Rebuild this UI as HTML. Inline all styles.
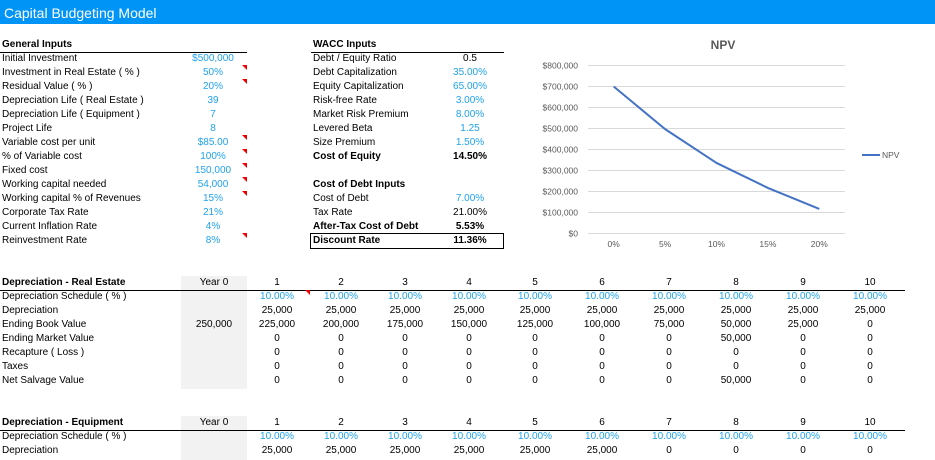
<!DOCTYPE html>
<html><head><meta charset="utf-8">
<style>
body{margin:0;width:935px;height:460px;overflow:hidden;background:#fff;position:relative;font-family:"Liberation Sans",sans-serif;font-size:10px;color:#000}
.t{position:absolute;white-space:nowrap;line-height:14px;height:14px}
.b{font-weight:bold}
.blue{color:#1fa2ee}
.c{transform:translateX(-50%)}
.tri{position:absolute;width:0;height:0;border-top:5px solid #e00;border-left:5px solid transparent}
.hl{position:absolute;height:0;border-top:1.5px solid #000}
.gray{position:absolute;background:#f2f2f2}
</style></head>
<body>
<div style="position:absolute;left:0;top:0;width:935px;height:24px;background:#0094f6"></div>
<div class="t" style="left:4px;top:5px;color:#fff;font-size:14px;line-height:16px">Capital Budgeting Model</div>
<div class="gray" style="left:181px;top:276px;width:66px;height:113px"></div>
<div class="gray" style="left:181px;top:416px;width:66px;height:44px"></div>
<div id="cells"></div>
<svg id="chart" width="935" height="460" style="position:absolute;left:0;top:0" font-family="Liberation Sans, sans-serif"></svg>
<script>
const root=document.getElementById('cells');
function txt(x,y,s,cls,name){
 const el=document.createElement('div');
 el.className='t '+(cls||'');
 el.style.left=x+'px';el.style.top=(y-7)+'px';
 el.textContent=s;
 
 
 root.appendChild(el);return el;
}
function line(x,y,w,name){
 const el=document.createElement('div');el.className='hl';
 el.style.left=x+'px';el.style.top=y+'px';el.style.width=w+'px';
 
 
 root.appendChild(el);
}
function tri(x,y){
 const el=document.createElement('div');el.className='tri';
 el.style.left=x+'px';el.style.top=y+'px';
 
 
 root.appendChild(el);
}
// General inputs
txt(2,45,'General Inputs','b','general-inputs-header');
line(0,52,247,'general-inputs-underline');
const gi=[['Initial Investment','$500,000',0],['Investment in Real Estate ( % )','50%',1],['Residual Value ( % )','20%',1],['Depreciation Life ( Real Estate )','39',0],['Depreciation Life ( Equipment )','7',0],['Project Life','8',0],['Variable cost per unit','$85.00',1],['% of Variable cost','100%',1],['Fixed cost','150,000',1],['Working capital needed','54,000',1],['Working capital % of Revenues','15%',1],['Corporate Tax Rate','21%',0],['Current Inflation Rate','4%',0],['Reinvestment Rate','8%',1]];
gi.forEach((r,i)=>{const y=59+i*14;txt(2,y,r[0],'','general-input-label');txt(213,y,r[1],'blue c','general-input-value');if(r[2])tri(242,y-8);});
// WACC
txt(313,45,'WACC Inputs','b','wacc-inputs-header');
line(311,52,193,'wacc-underline');
const wa=[['Debt / Equity Ratio','0.5',''],['Debt Capitalization','35.00%','blue'],['Equity Capitalization','65.00%','blue'],['Risk-free Rate','3.00%','blue'],['Market Risk Premium','8.00%','blue'],['Levered Beta','1.25','blue'],['Size Premium','1.50%','blue'],['Cost of Equity','14.50%','b']];
wa.forEach((r,i)=>{const y=59+i*14;txt(313,y,r[0],r[2]=='b'?'b':'','wacc-label');txt(470,y,r[1],r[2]+' c','wacc-value');});
txt(313,185,'Cost of Debt Inputs','b','cost-of-debt-header');
const cd=[['Cost of Debt','7.00%','blue',''],['Tax Rate','21.00%','',''],['After-Tax Cost of Debt','5.53%','b','b'],['Discount Rate','11.36%','b','b']];
cd.forEach((r,i)=>{const y=199+i*14;txt(313,y,r[0],r[3],'cost-of-debt-label');txt(470,y,r[1],r[2]+' c','cost-of-debt-value');});
const box=document.createElement('div');


box.style.cssText='position:absolute;left:310px;top:233px;width:192px;height:14px;border:1.5px solid #000';
root.appendChild(box);
// Depreciation tables
const cols=[277,341,405,469,535,602,669,736,803,870];
function table(y0,title,rows){
 txt(2,y0,title,'b','table-header');
 txt(214,y0,'Year 0','c','year0-header');
 cols.forEach((x,i)=>txt(x,y0,String(i+1),'c','year-header'));
 line(0,y0+7,905,'table-header-underline');
 rows.forEach((r,ri)=>{const y=y0+14*(ri+1);txt(2,y,r[0],'','row-label');if(r[1])txt(214,y,r[1],'c','year0-value');
  r[2].forEach((v,i)=>txt(cols[i],y,v,(r[3]?'blue ':'')+'c','cell-value'));});
}
const pct=Array(10).fill('10.00%');
table(283,'Depreciation - Real Estate',[
 ['Depreciation Schedule ( % )','',pct,1],
 ['Depreciation','',Array(10).fill('25,000')],
 ['Ending Book Value','250,000',['225,000','200,000','175,000','150,000','125,000','100,000','75,000','50,000','25,000','0']],
 ['Ending Market Value','',['0','0','0','0','0','0','0','50,000','0','0']],
 ['Recapture ( Loss )','',Array(10).fill('0')],
 ['Taxes','',Array(10).fill('0')],
 ['Net Salvage Value','',['0','0','0','0','0','0','0','50,000','0','0']]]);
tri(305,290);
table(423,'Depreciation - Equipment',[
 ['Depreciation Schedule ( % )','',pct,1],
 ['Depreciation','',['25,000','25,000','25,000','25,000','25,000','25,000','0','0','0','0']]]);
</script>
<script>
// Chart data
const rates=['0%','5%','10%','15%','20%'];
const npvValues=[700000,497000,336000,217000,117000];
const yTicks=[0,100000,200000,300000,400000,500000,600000,700000,800000];
const svg=document.getElementById('chart');
const NS='http://www.w3.org/2000/svg';
const x0=588,x1=845,yBase=233.5,yTop=65.5,yMax=800000;
const xs=i=>x0+(x1-x0)*(i+0.5)/rates.length;
const ys=v=>yBase-(yBase-yTop)*v/yMax;
function mk(tag,attrs,name){const e=document.createElementNS(NS,tag);for(const k in attrs)e.setAttribute(k,attrs[k]);
 
 
 svg.appendChild(e);return e;}
const tt=mk('text',{x:723,y:49,'text-anchor':'middle','font-size':12,'font-weight':'bold',fill:'#595959'},'chart-title');tt.textContent='NPV';
yTicks.forEach(v=>{
 mk('line',{x1:x0,x2:x1,y1:ys(v),y2:ys(v),stroke:'#d9d9d9','stroke-width':1},'gridline');
 const t=mk('text',{x:578,y:ys(v)+3,'text-anchor':'end','font-size':8.5,fill:'#595959'},'y-tick-label');
 t.textContent='$'+v.toLocaleString('en-US');
});
rates.forEach((r,i)=>{const t=mk('text',{x:xs(i),y:247,'text-anchor':'middle','font-size':8.5,fill:'#595959'},'x-tick-label');t.textContent=r;});
mk('polyline',{points:npvValues.map((v,i)=>xs(i)+','+ys(v)).join(' '),fill:'none',stroke:'#4472c4','stroke-width':2,'stroke-linejoin':'round'},'npv-line');
mk('line',{x1:862,x2:880,y1:155,y2:155,stroke:'#4472c4','stroke-width':2},'legend-swatch');
const lt=mk('text',{x:882,y:158,'font-size':8.5,fill:'#595959'},'legend-label');lt.textContent='NPV';
</script>
</body></html>
